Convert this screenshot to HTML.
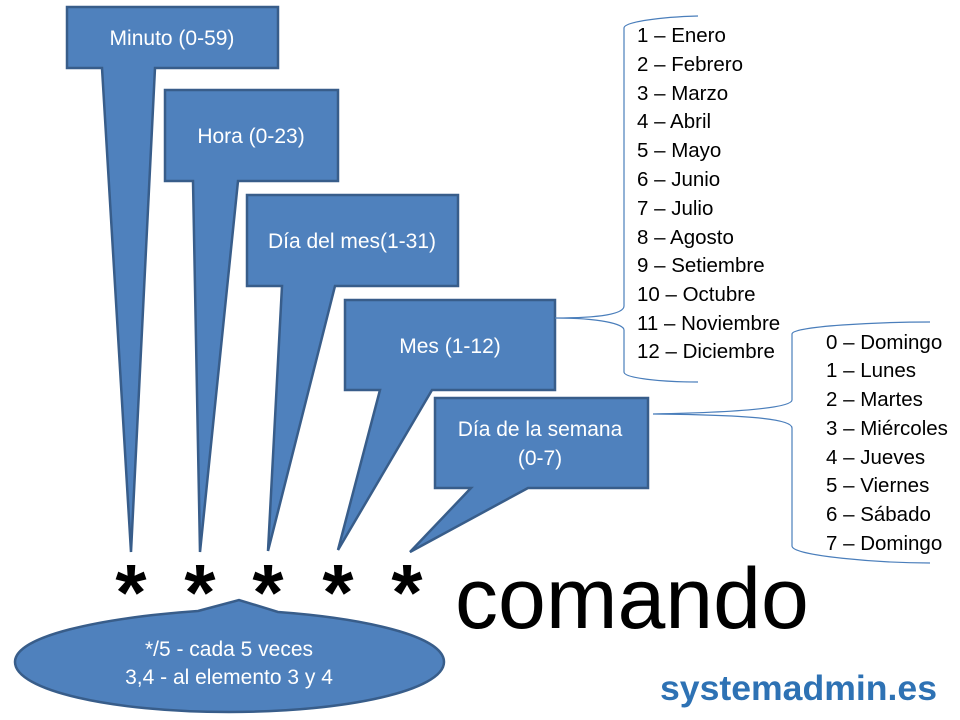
<!DOCTYPE html>
<html><head><meta charset="utf-8"><style>
html,body{margin:0;padding:0;background:#fff;}
svg{display:block;}
.w{font-family:"Liberation Sans",sans-serif;fill:#fff;font-size:21px;}
.l{font-family:"Liberation Sans",sans-serif;fill:#000;font-size:20.5px;}
</style></head><body>
<svg width="960" height="720" viewBox="0 0 960 720" xmlns="http://www.w3.org/2000/svg">
<g fill="#4f81bd" stroke="#385d8a" stroke-width="2.5" stroke-linejoin="miter">
<path d="M67,7 H278 V68 H155 L131,552 L102,68 H67 Z"/>
<path d="M165,90 H338 V181 H238 L200,552 L193,181 H165 Z"/>
<path d="M247,195 H458 V286 H335 L268,551 L282,286 H247 Z"/>
<path d="M345,300 H555 V390 H432 L338,550 L380,390 H345 Z"/>
<path d="M435,398 H648 V488 H528 L410,552 L471,488 H435 Z"/>
<path d="M198,611 L239,600 L278,612 C360,618 444,635 444,662 C444,690 348,712 229,712 C110,712 15,690 15,662 C15,636 100,618 198,611 Z"/>
</g>
<g class="w" text-anchor="middle">
<text x="172" y="45">Minuto (0-59)</text>
<text x="251" y="143">Hora (0-23)</text>
<text x="352" y="248">Día del mes(1-31)</text>
<text x="450" y="353">Mes (1-12)</text>
<text x="540" y="436">Día de la semana</text>
<text x="540" y="465">(0-7)</text>
<text x="229" y="656">*/5 - cada 5 veces</text>
<text x="229" y="684">3,4 - al elemento 3 y 4</text>
</g>
<g font-family="Liberation Sans,sans-serif" font-weight="bold" font-size="80" fill="#000" text-anchor="middle">
<text x="131" y="620">*</text>
<text x="200" y="620">*</text>
<text x="268" y="620">*</text>
<text x="338" y="620">*</text>
<text x="407" y="620">*</text>
</g>
<text x="455" y="628" font-family="Liberation Sans,sans-serif" font-size="86" fill="#000">comando</text>
<g fill="none" stroke="#4a7ebb" stroke-width="1.2">
<path d="M698,16 C660,17 624,22 624,28 V306 C624,314 600,318 555,318 C600,318 624,324 624,330 V372 C624,378 660,382 698,382"/>
<path d="M930,322 C880,322 792,326 792,334 V400 C792,406 760,412 653,414 C760,415 792,420 792,428 V546 C792,556 880,563 930,563"/>
</g>
<g class="l">
<text x="637" y="42">1 – Enero</text>
<text x="637" y="71">2 – Febrero</text>
<text x="637" y="100">3 – Marzo</text>
<text x="637" y="128">4 – Abril</text>
<text x="637" y="157">5 – Mayo</text>
<text x="637" y="186">6 – Junio</text>
<text x="637" y="215">7 – Julio</text>
<text x="637" y="244">8 – Agosto</text>
<text x="637" y="272">9 – Setiembre</text>
<text x="637" y="301">10 – Octubre</text>
<text x="637" y="330">11 – Noviembre</text>
<text x="637" y="358">12 – Diciembre</text>
<text x="826" y="349">0 – Domingo</text>
<text x="826" y="377">1 – Lunes</text>
<text x="826" y="406">2 – Martes</text>
<text x="826" y="435">3 – Miércoles</text>
<text x="826" y="464">4 – Jueves</text>
<text x="826" y="492">5 – Viernes</text>
<text x="826" y="521">6 – Sábado</text>
<text x="826" y="550">7 – Domingo</text>
</g>
<text x="660" y="700" font-family="Liberation Sans,sans-serif" font-weight="bold" font-size="35" fill="#2e72b4" textLength="277" lengthAdjust="spacingAndGlyphs">systemadmin.es</text>
</svg>
</body></html>
